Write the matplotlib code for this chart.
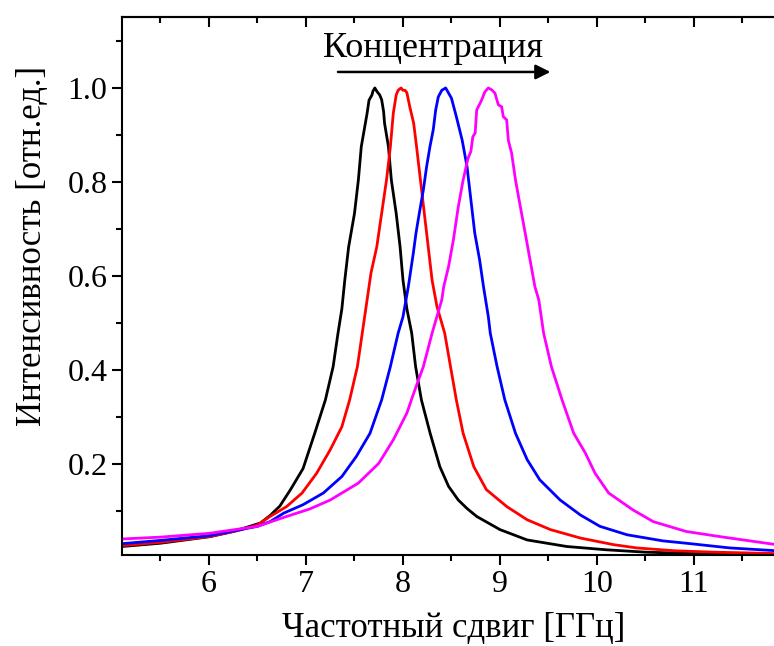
import matplotlib
matplotlib.use("Agg")
import matplotlib.pyplot as plt
from matplotlib.ticker import MultipleLocator

plt.rcParams['font.family'] = ['Liberation Serif', 'DejaVu Serif']

# спектры (частота в ГГц, интенсивность в отн. ед.)
x_black = [5.10, 5.50, 6.01, 6.25, 6.53, 6.63, 6.73, 6.84, 6.97, 7.09, 7.20, 7.28,
           7.33, 7.37, 7.40, 7.44, 7.50, 7.54, 7.57, 7.63, 7.65, 7.68, 7.69, 7.71,
           7.73, 7.76, 7.78, 7.80, 7.81, 7.85, 7.88, 7.93, 7.97, 8.00, 8.04, 8.09,
           8.13, 8.19, 8.28, 8.38, 8.47, 8.57, 8.66, 8.76, 9.00, 9.28, 9.69, 10.10,
           10.50, 11.00, 11.40, 11.85]
y_black = [0.024, 0.031, 0.045, 0.056, 0.074, 0.090, 0.110, 0.145, 0.190, 0.265, 0.336, 0.407,
           0.478, 0.530, 0.591, 0.662, 0.733, 0.804, 0.875, 0.946, 0.974, 0.985, 0.993, 1.000,
           0.993, 0.985, 0.975, 0.950, 0.925, 0.875, 0.804, 0.733, 0.662, 0.591, 0.530, 0.478,
           0.407, 0.336, 0.265, 0.194, 0.152, 0.123, 0.105, 0.088, 0.060, 0.038, 0.024, 0.017,
           0.012, 0.009, 0.007, 0.006]

x_red = [5.10, 5.50, 6.00, 6.30, 6.50, 6.63, 6.80, 6.96, 7.11, 7.25, 7.37, 7.45,
         7.53, 7.58, 7.63, 7.67, 7.73, 7.78, 7.83, 7.87, 7.90, 7.93, 7.95, 7.98,
         8.00, 8.02, 8.04, 8.06, 8.07, 8.11, 8.14, 8.18, 8.22, 8.26, 8.30, 8.35,
         8.43, 8.49, 8.55, 8.62, 8.73, 8.86, 9.07, 9.28, 9.52, 9.83, 10.17, 10.41,
         10.80, 11.20, 11.85]
y_red = [0.026, 0.033, 0.045, 0.058, 0.070, 0.088, 0.109, 0.138, 0.180, 0.230, 0.279, 0.336,
         0.407, 0.478, 0.549, 0.606, 0.662, 0.733, 0.804, 0.875, 0.946, 0.985, 0.995, 1.000,
         0.995, 0.995, 0.990, 0.970, 0.960, 0.925, 0.875, 0.804, 0.733, 0.662, 0.591, 0.535,
         0.478, 0.407, 0.336, 0.265, 0.194, 0.145, 0.109, 0.081, 0.060, 0.042, 0.028, 0.021,
         0.015, 0.012, 0.009]

x_blue = [5.10, 5.50, 6.00, 6.50, 6.63, 6.77, 6.97, 7.18, 7.37, 7.52, 7.66, 7.78,
          7.87, 7.95, 8.00, 8.055, 8.107, 8.134, 8.168, 8.21, 8.244, 8.278, 8.312, 8.337,
          8.364, 8.40, 8.44, 8.50, 8.55, 8.61, 8.66, 8.70, 8.74, 8.79, 8.83, 8.88,
          8.90, 8.97, 9.05, 9.16, 9.28, 9.41, 9.62, 9.83, 10.03, 10.31, 10.68, 10.92,
          11.37, 11.85]
y_blue = [0.030, 0.037, 0.047, 0.067, 0.077, 0.095, 0.113, 0.138, 0.173, 0.216, 0.265, 0.336,
          0.407, 0.478, 0.513, 0.577, 0.649, 0.691, 0.733, 0.783, 0.833, 0.875, 0.911, 0.953,
          0.981, 0.995, 1.000, 0.978, 0.939, 0.889, 0.833, 0.762, 0.691, 0.634, 0.577, 0.513,
          0.478, 0.407, 0.336, 0.265, 0.209, 0.166, 0.123, 0.091, 0.067, 0.049, 0.036, 0.031,
          0.021, 0.015]

x_magenta = [5.10, 5.50, 6.00, 6.50, 6.80, 7.04, 7.25, 7.54, 7.75, 7.90, 8.04, 8.11,
             8.21, 8.30, 8.40, 8.42, 8.47, 8.52, 8.57, 8.62, 8.67, 8.70, 8.72, 8.744,
             8.76, 8.81, 8.845, 8.88, 8.914, 8.948, 8.983, 9.017, 9.034, 9.069, 9.086, 9.12,
             9.16, 9.21, 9.26, 9.31, 9.36, 9.40, 9.45, 9.53, 9.64, 9.76, 9.88, 9.98,
             10.12, 10.37, 10.58, 10.92, 11.27, 11.85]
y_magenta = [0.040, 0.044, 0.052, 0.067, 0.088, 0.104, 0.123, 0.159, 0.201, 0.251, 0.308, 0.350,
             0.407, 0.478, 0.549, 0.577, 0.620, 0.677, 0.747, 0.804, 0.850, 0.865, 0.896, 0.904,
             0.953, 0.974, 0.992, 1.000, 0.996, 0.989, 0.964, 0.960, 0.939, 0.932, 0.889, 0.861,
             0.804, 0.747, 0.691, 0.634, 0.577, 0.549, 0.478, 0.407, 0.336, 0.265, 0.223, 0.180,
             0.138, 0.102, 0.077, 0.056, 0.045, 0.028]

fig = plt.figure(figsize=(7.74, 6.46), dpi=100)
ax = fig.add_axes([0.1576, 0.1409, 0.8424, 0.8328])

ax.plot(x_black, y_black, color='black', lw=2.0)
ax.plot(x_red, y_red, color='red', lw=2.0)
ax.plot(x_blue, y_blue, color='blue', lw=2.0)
ax.plot(x_magenta, y_magenta, color='magenta', lw=2.0)

ax.set_xlim(5.103, 11.825)
ax.set_ylim(0.006, 1.151)

ax.xaxis.set_major_locator(MultipleLocator(1))
ax.xaxis.set_minor_locator(MultipleLocator(0.5))
ax.yaxis.set_major_locator(MultipleLocator(0.2))
ax.yaxis.set_minor_locator(MultipleLocator(0.1))
ax.yaxis.set_major_formatter(plt.FuncFormatter(lambda v, p: f"{v:.1f}"))

ax.tick_params(which='major', direction='out', length=7, width=1.5, labelsize=23)
ax.tick_params(which='minor', direction='out', length=4, width=1.5)
ax.spines['right'].set_visible(False)
for s in ['left', 'bottom', 'top']:
    ax.spines[s].set_linewidth(1.5)

# верхняя ось: засечки внутрь
top = ax.secondary_xaxis('top')
top.xaxis.set_major_locator(MultipleLocator(1))
top.xaxis.set_minor_locator(MultipleLocator(0.5))
top.tick_params(which='major', direction='in', length=7, width=1.5, labeltop=False)
top.tick_params(which='minor', direction='in', length=4, width=1.5)
top.spines['top'].set_linewidth(1.5)

ax.set_xlabel("Частотный сдвиг [ГГц]", fontsize=25)
ax.set_ylabel("Интенсивность [отн.ед.]", fontsize=25)
ax.xaxis.set_label_coords(0.509, -0.106)
ax.yaxis.set_label_coords(-0.112, 0.574)

ax.annotate("", xy=(9.52, 1.034), xytext=(7.33, 1.034),
            arrowprops=dict(arrowstyle='-|>', color='black', lw=1.8,
                            mutation_scale=22, shrinkA=0, shrinkB=0))
ax.text(8.31, 1.085, "Концентрация", fontsize=26, ha='center', va='center')

fig.savefig("out.png", dpi=100)
